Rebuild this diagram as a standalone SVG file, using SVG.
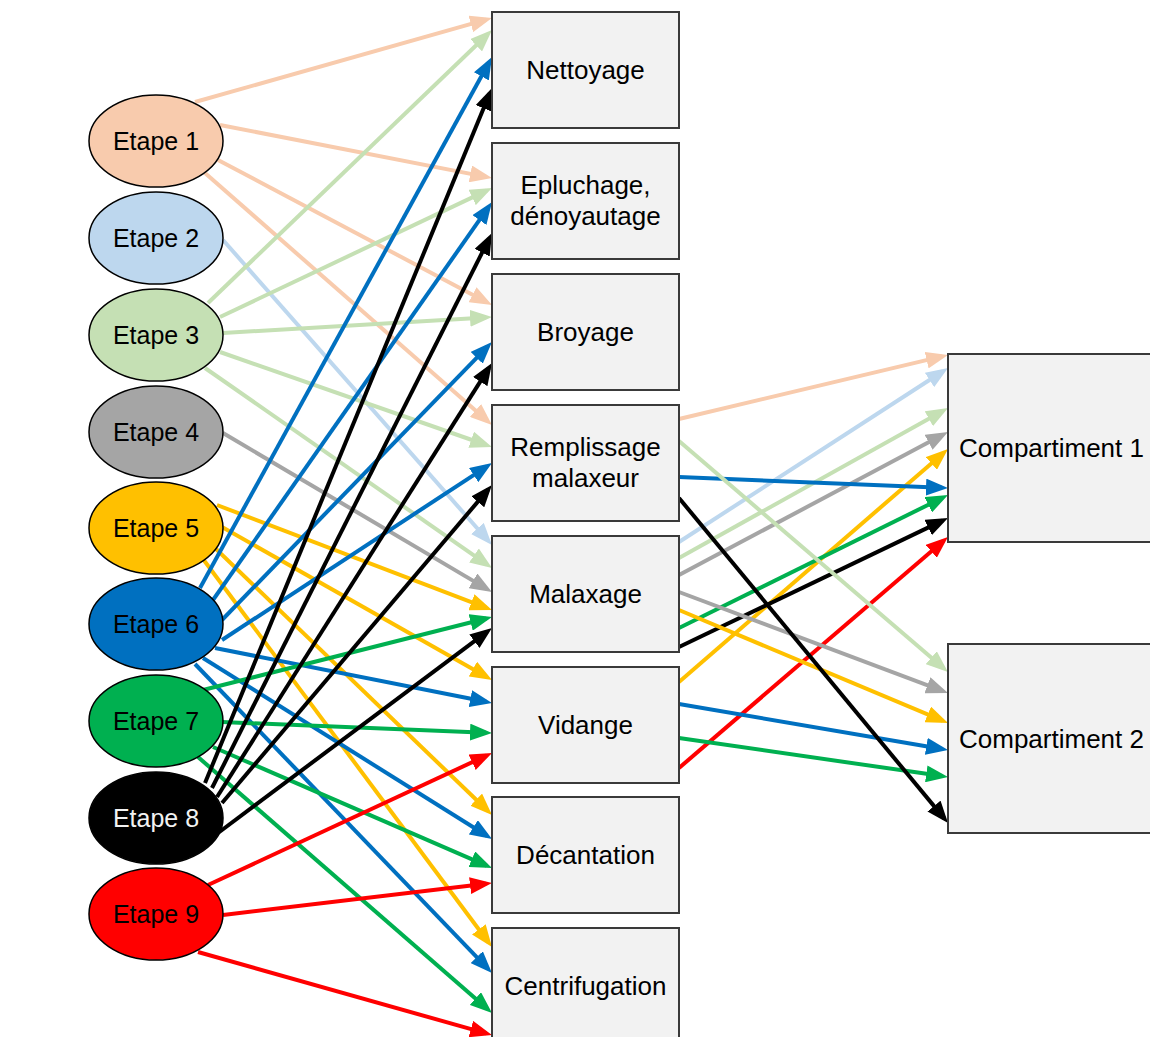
<svg xmlns="http://www.w3.org/2000/svg" width="1150" height="1037" viewBox="0 0 1150 1037">
<style>
text{font-family:"Liberation Sans",Arial,sans-serif;font-size:25px;fill:#000}
.bt{font-size:26px}
.box{fill:#F2F2F2;stroke:#3a3a3a;stroke-width:2}
.ell{stroke:#000;stroke-width:1.5}
.mid{text-anchor:middle}
line{stroke-width:4;fill:none}
.or{stroke:#F8CBAD;marker-end:url(#m-or)}
.lb{stroke:#BDD7EE;marker-end:url(#m-lb)}
.lg{stroke:#C5E0B4;marker-end:url(#m-lg)}
.gy{stroke:#A5A5A5;marker-end:url(#m-gy)}
.gd{stroke:#FFC000;marker-end:url(#m-gd)}
.bl{stroke:#0070C0;marker-end:url(#m-bl)}
.gn{stroke:#00B050;marker-end:url(#m-gn)}
.bk{stroke:#000000;marker-end:url(#m-bk)}
.rd{stroke:#FF0000;marker-end:url(#m-rd)}
</style>
<defs>
<marker id="m-or" markerUnits="userSpaceOnUse" markerWidth="22" markerHeight="17" refX="16" refY="8.5" orient="auto"><path d="M0,0 L22,8.5 L0,17 z" fill="#F8CBAD"/></marker>
<marker id="m-lb" markerUnits="userSpaceOnUse" markerWidth="22" markerHeight="17" refX="16" refY="8.5" orient="auto"><path d="M0,0 L22,8.5 L0,17 z" fill="#BDD7EE"/></marker>
<marker id="m-lg" markerUnits="userSpaceOnUse" markerWidth="22" markerHeight="17" refX="16" refY="8.5" orient="auto"><path d="M0,0 L22,8.5 L0,17 z" fill="#C5E0B4"/></marker>
<marker id="m-gy" markerUnits="userSpaceOnUse" markerWidth="22" markerHeight="17" refX="16" refY="8.5" orient="auto"><path d="M0,0 L22,8.5 L0,17 z" fill="#A5A5A5"/></marker>
<marker id="m-gd" markerUnits="userSpaceOnUse" markerWidth="22" markerHeight="17" refX="16" refY="8.5" orient="auto"><path d="M0,0 L22,8.5 L0,17 z" fill="#FFC000"/></marker>
<marker id="m-bl" markerUnits="userSpaceOnUse" markerWidth="22" markerHeight="17" refX="16" refY="8.5" orient="auto"><path d="M0,0 L22,8.5 L0,17 z" fill="#0070C0"/></marker>
<marker id="m-gn" markerUnits="userSpaceOnUse" markerWidth="22" markerHeight="17" refX="16" refY="8.5" orient="auto"><path d="M0,0 L22,8.5 L0,17 z" fill="#00B050"/></marker>
<marker id="m-bk" markerUnits="userSpaceOnUse" markerWidth="22" markerHeight="17" refX="16" refY="8.5" orient="auto"><path d="M0,0 L22,8.5 L0,17 z" fill="#000000"/></marker>
<marker id="m-rd" markerUnits="userSpaceOnUse" markerWidth="22" markerHeight="17" refX="16" refY="8.5" orient="auto"><path d="M0,0 L22,8.5 L0,17 z" fill="#FF0000"/></marker>
</defs>
<rect width="1150" height="1037" fill="#fff"/>
<g id="connectors">
<line class="or" x1="195" y1="102" x2="486.2" y2="19.6"/>
<line class="or" x1="220" y1="125" x2="486.1" y2="176.9"/>
<line class="or" x1="218" y1="160" x2="486.7" y2="302.2"/>
<line class="or" x1="205" y1="173" x2="487.5" y2="421.0"/>
<line class="lb" x1="223" y1="240" x2="488.0" y2="540.5"/>
<line class="lg" x1="208" y1="303" x2="487.7" y2="34.2"/>
<line class="lg" x1="220" y1="317" x2="486.6" y2="190.6"/>
<line class="lg" x1="223" y1="333" x2="486.0" y2="317.4"/>
<line class="lg" x1="220" y1="352" x2="486.3" y2="445.0"/>
<line class="lg" x1="205" y1="368" x2="487.1" y2="564.6"/>
<line class="gy" x1="223" y1="433" x2="486.8" y2="588.9"/>
<line class="gd" x1="217" y1="505" x2="486.4" y2="607.9"/>
<line class="gd" x1="222" y1="527" x2="486.8" y2="677.0"/>
<line class="gd" x1="215" y1="548" x2="487.7" y2="810.8"/>
<line class="gd" x1="203" y1="559" x2="488.4" y2="942.2"/>
<line class="bl" x1="200" y1="588" x2="489.1" y2="62.3"/>
<line class="bl" x1="213" y1="600" x2="488.6" y2="206.9"/>
<line class="bl" x1="222" y1="620" x2="487.8" y2="346.3"/>
<line class="bl" x1="222" y1="640" x2="487.0" y2="466.3"/>
<line class="bl" x1="215" y1="648" x2="486.1" y2="701.8"/>
<line class="bl" x1="203" y1="658" x2="486.9" y2="835.8"/>
<line class="bl" x1="195" y1="664" x2="487.8" y2="968.7"/>
<line class="gn" x1="203" y1="690" x2="486.2" y2="618.5"/>
<line class="gn" x1="222" y1="722" x2="486.0" y2="732.8"/>
<line class="gn" x1="213" y1="747" x2="486.5" y2="865.6"/>
<line class="gn" x1="198" y1="757" x2="487.5" y2="1009.1"/>
<line class="bk" x1="205" y1="783" x2="489.7" y2="93.5"/>
<line class="bk" x1="212" y1="788" x2="489.3" y2="238.4"/>
<line class="bk" x1="217" y1="797" x2="488.8" y2="368.1"/>
<line class="bk" x1="222" y1="803" x2="488.1" y2="489.6"/>
<line class="bk" x1="218" y1="833" x2="487.2" y2="631.6"/>
<line class="rd" x1="208" y1="885" x2="486.6" y2="755.5"/>
<line class="rd" x1="223" y1="915" x2="486.0" y2="883.7"/>
<line class="rd" x1="198" y1="952" x2="486.2" y2="1033.4"/>
<line class="or" x1="679" y1="419" x2="942.2" y2="356.4"/>
<line class="lb" x1="679" y1="542" x2="943.0" y2="371.3"/>
<line class="lg" x1="679" y1="558" x2="942.8" y2="410.9"/>
<line class="gy" x1="679" y1="575" x2="942.7" y2="434.8"/>
<line class="gd" x1="679" y1="682" x2="943.5" y2="452.9"/>
<line class="bl" x1="679" y1="477" x2="942.0" y2="487.8"/>
<line class="gn" x1="679" y1="628" x2="942.6" y2="497.7"/>
<line class="bk" x1="679" y1="647" x2="942.6" y2="520.6"/>
<line class="rd" x1="679" y1="768" x2="943.4" y2="540.9"/>
<line class="lg" x1="679" y1="441" x2="943.4" y2="668.1"/>
<line class="gy" x1="679" y1="592" x2="942.4" y2="690.9"/>
<line class="gd" x1="679" y1="610" x2="942.5" y2="720.7"/>
<line class="bl" x1="679" y1="704" x2="942.1" y2="749.0"/>
<line class="gn" x1="679" y1="738" x2="942.1" y2="776.1"/>
<line class="bk" x1="679" y1="498" x2="944.2" y2="818.4"/>
</g>
<g id="etape1"><ellipse class="ell" cx="156" cy="141" rx="67" ry="46" fill="#F8CBAD"/><text class="mid" x="156" y="150">Etape 1</text></g>
<g id="etape2"><ellipse class="ell" cx="156" cy="238" rx="67" ry="46" fill="#BDD7EE"/><text class="mid" x="156" y="247">Etape 2</text></g>
<g id="etape3"><ellipse class="ell" cx="156" cy="335" rx="67" ry="46" fill="#C5E0B4"/><text class="mid" x="156" y="344">Etape 3</text></g>
<g id="etape4"><ellipse class="ell" cx="156" cy="432" rx="67" ry="46" fill="#A5A5A5"/><text class="mid" x="156" y="441">Etape 4</text></g>
<g id="etape5"><ellipse class="ell" cx="156" cy="528" rx="67" ry="46" fill="#FFC000"/><text class="mid" x="156" y="537">Etape 5</text></g>
<g id="etape6"><ellipse class="ell" cx="156" cy="624" rx="67" ry="46" fill="#0070C0"/><text class="mid" x="156" y="633">Etape 6</text></g>
<g id="etape7"><ellipse class="ell" cx="156" cy="721" rx="67" ry="46" fill="#00B050"/><text class="mid" x="156" y="730">Etape 7</text></g>
<g id="etape8"><ellipse class="ell" cx="156" cy="818" rx="67" ry="46" fill="#000000"/><text class="mid" x="156" y="827" style="fill:#F2F2F2">Etape 8</text></g>
<g id="etape9"><ellipse class="ell" cx="156" cy="914" rx="67" ry="46" fill="#FF0000"/><text class="mid" x="156" y="923">Etape 9</text></g>
<g id="nettoyage"><rect class="box" x="492" y="12" width="187" height="116"/><text class="mid bt" x="585.5" y="79">Nettoyage</text></g>
<g id="epluchage"><rect class="box" x="492" y="143" width="187" height="116"/><text class="mid bt" x="585.5" y="194">Epluchage,</text><text class="mid bt" x="585.5" y="225">dénoyautage</text></g>
<g id="broyage"><rect class="box" x="492" y="274" width="187" height="116"/><text class="mid bt" x="585.5" y="341">Broyage</text></g>
<g id="remplissage"><rect class="box" x="492" y="405" width="187" height="116"/><text class="mid bt" x="585.5" y="456">Remplissage</text><text class="mid bt" x="585.5" y="487">malaxeur</text></g>
<g id="malaxage"><rect class="box" x="492" y="536" width="187" height="116"/><text class="mid bt" x="585.5" y="603">Malaxage</text></g>
<g id="vidange"><rect class="box" x="492" y="667" width="187" height="116"/><text class="mid bt" x="585.5" y="734">Vidange</text></g>
<g id="decantation"><rect class="box" x="492" y="797" width="187" height="116"/><text class="mid bt" x="585.5" y="864">Décantation</text></g>
<g id="centrifugation"><rect class="box" x="492" y="928" width="187" height="116"/><text class="mid bt" x="585.5" y="995">Centrifugation</text></g>
<g id="compartiment1"><rect class="box" x="948" y="354" width="220" height="188"/><text class="bt" x="959" y="457">Compartiment 1</text></g>
<g id="compartiment2"><rect class="box" x="948" y="644" width="220" height="189"/><text class="bt" x="959" y="748">Compartiment 2</text></g>
</svg>
